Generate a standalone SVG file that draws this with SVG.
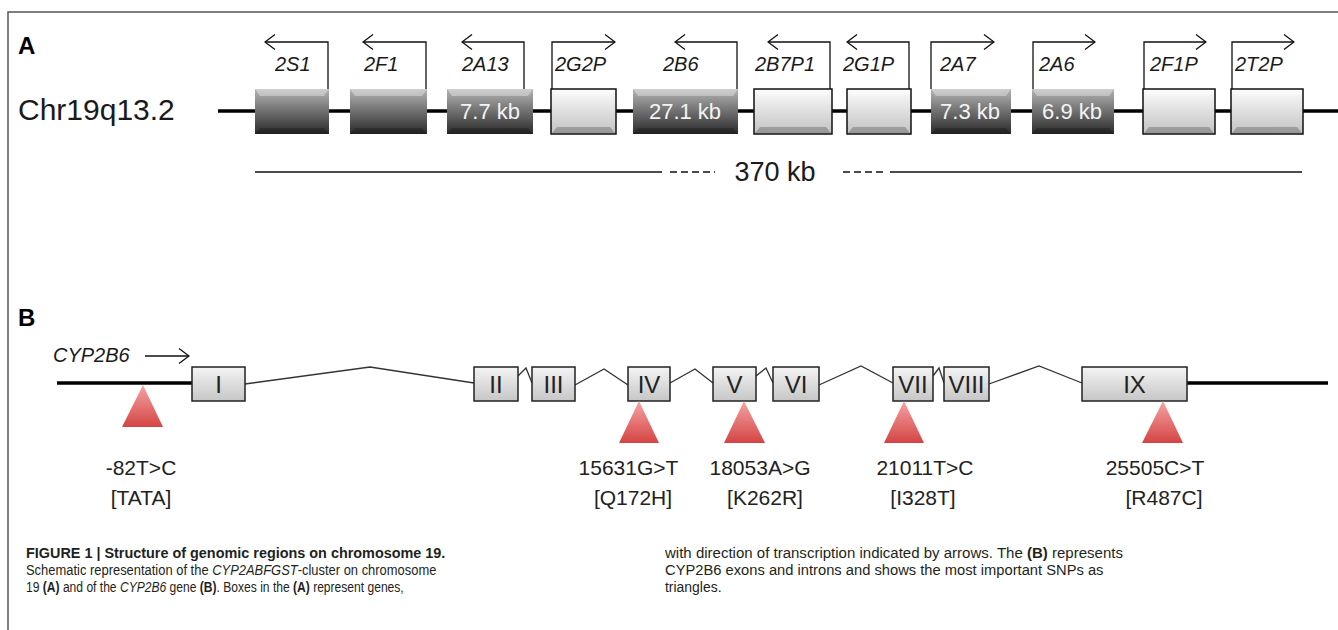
<svg xmlns="http://www.w3.org/2000/svg" width="1338" height="630" viewBox="0 0 1338 630">
<defs>
<linearGradient id="gDark" x1="0" y1="0" x2="0" y2="1"><stop offset="0" stop-color="#b4b4b4"/><stop offset="1" stop-color="#2a2a2a"/></linearGradient>
<linearGradient id="gLight" x1="0" y1="0" x2="0" y2="1"><stop offset="0" stop-color="#fbfbfb"/><stop offset="1" stop-color="#c2c2c2"/></linearGradient>
<linearGradient id="gExon" x1="0" y1="0" x2="0" y2="1"><stop offset="0" stop-color="#f4f4f4"/><stop offset="1" stop-color="#c6c6c6"/></linearGradient>
<linearGradient id="gRed" x1="0" y1="0" x2="0" y2="1"><stop offset="0" stop-color="#f6a4a4"/><stop offset="1" stop-color="#d44444"/></linearGradient>
<marker id="arr" viewBox="0 0 12 16" refX="11" refY="8" markerWidth="12" markerHeight="16" markerUnits="userSpaceOnUse" orient="auto">
<path d="M1,0.5 L11,8 L1,15.5" fill="none" stroke="#111" stroke-width="1.3"/>
</marker>
</defs>
<style>
.frame{fill:none;stroke:#555;stroke-width:1.5}
.chr{stroke:#000;stroke-width:3.5}
.dk{fill:url(#gDark)}
.lt{fill:url(#gLight);stroke:#111;stroke-width:1.5}
.ex{fill:url(#gExon);stroke:#222;stroke-width:1.5}
.bt{fill:#fff;opacity:0.35}
.bb{fill:#000;opacity:0.22}
.tx{fill:none;stroke:#111;stroke-width:1.3;marker-end:url(#arr)}
.intr{fill:none;stroke:#333;stroke-width:1.3}
.tri{fill:url(#gRed)}
.gl{font-family:"Liberation Sans",Arial,sans-serif;font-style:italic;font-size:20px;fill:#1a1a1a}
.kb{font-family:"Liberation Sans",Arial,sans-serif;font-size:22px;fill:#f4f4f4;text-anchor:middle}
.rn{font-family:"Liberation Sans",Arial,sans-serif;font-size:24px;fill:#222;text-anchor:middle}
.snp{font-family:"Liberation Sans",Arial,sans-serif;font-size:21px;fill:#222;text-anchor:middle}
.pl{font-family:"Liberation Sans",Arial,sans-serif;font-weight:bold;font-size:24px;fill:#000}
.cap{font-family:"Liberation Sans",Arial,sans-serif;font-size:15.5px;fill:#231f20}
.b{font-weight:bold}
.i{font-style:italic}
</style>
<rect width="1338" height="630" fill="#fff"/>
<path class="frame" d="M8,630 V12 H1338"/>

<g id="panelA">
<text class="pl" x="18" y="54">A</text>
<text id="chrLabel" x="18" y="120" style="font-family:'Liberation Sans',Arial,sans-serif;font-size:30px;fill:#1a1a1a">Chr19q13.2</text>
<line class="chr" x1="218" y1="111" x2="1338" y2="111"/>
</g>

<g id="genes">
<g id="g2S1"><rect class="dk" x="255" y="89" width="74" height="45"/><path class="bt" d="M255,89H329L324,96H260Z"/><path class="bb" d="M255,134H329L324,128H260Z"/><text class="gl" x="275" y="71">2S1</text></g>
<g id="g2F1"><rect class="dk" x="350" y="89" width="77" height="45"/><path class="bt" d="M350,89H427L422,96H355Z"/><path class="bb" d="M350,134H427L422,128H355Z"/><text class="gl" x="364" y="71">2F1</text></g>
<g id="g2A13"><rect class="dk" x="447" y="89" width="86" height="45"/><path class="bt" d="M447,89H533L528,96H452Z"/><path class="bb" d="M447,134H533L528,128H452Z"/><text class="kb" x="490" y="119">7.7 kb</text><text class="gl" x="462" y="71">2A13</text></g>
<g id="g2G2P"><rect class="lt" x="551" y="89" width="65" height="45"/><path class="bt" d="M552,90H615L610,96H557Z"/><path class="bb" d="M552,133H615L610,127H557Z"/><text class="gl" x="555" y="71">2G2P</text></g>
<g id="g2B6"><rect class="dk" x="633" y="89" width="105" height="45"/><path class="bt" d="M633,89H738L733,96H638Z"/><path class="bb" d="M633,134H738L733,128H638Z"/><text class="kb" x="685" y="119">27.1 kb</text><text class="gl" x="663" y="71">2B6</text></g>
<g id="g2B7P1"><rect class="lt" x="754" y="89" width="78" height="45"/><path class="bt" d="M755,90H831L826,96H760Z"/><path class="bb" d="M755,133H831L826,127H760Z"/><text class="gl" x="755" y="71">2B7P1</text></g>
<g id="g2G1P"><rect class="lt" x="847" y="89" width="64" height="45"/><path class="bt" d="M848,90H910L905,96H853Z"/><path class="bb" d="M848,133H910L905,127H853Z"/><text class="gl" x="843" y="71">2G1P</text></g>
<g id="g2A7"><rect class="dk" x="931" y="89" width="80" height="45"/><path class="bt" d="M931,89H1011L1006,96H936Z"/><path class="bb" d="M931,134H1011L1006,128H936Z"/><text class="kb" x="970" y="119">7.3 kb</text><text class="gl" x="940" y="71">2A7</text></g>
<g id="g2A6"><rect class="dk" x="1032" y="89" width="82" height="45"/><path class="bt" d="M1032,89H1114L1109,96H1037Z"/><path class="bb" d="M1032,134H1114L1109,128H1037Z"/><text class="kb" x="1072" y="119">6.9 kb</text><text class="gl" x="1039" y="71">2A6</text></g>
<g id="g2F1P"><rect class="lt" x="1143" y="89" width="72" height="45"/><path class="bt" d="M1144,90H1214L1209,96H1149Z"/><path class="bb" d="M1144,133H1214L1209,127H1149Z"/><text class="gl" x="1150" y="71">2F1P</text></g>
<g id="g2T2P"><rect class="lt" x="1231" y="89" width="72" height="45"/><path class="bt" d="M1232,90H1302L1297,96H1237Z"/><path class="bb" d="M1232,133H1302L1297,127H1237Z"/><text class="gl" x="1235" y="71">2T2P</text></g>
</g>

<g id="connectorsA">
<path class="tx" d="M328,89V42H265"/>
<path class="tx" d="M426,89V42H363"/>
<path class="tx" d="M524,89V42H462"/>
<path class="tx" d="M552,89V42H615"/>
<path class="tx" d="M737,89V42H675"/>
<path class="tx" d="M830,89V42H768"/>
<path class="tx" d="M909,89V42H847"/>
<path class="tx" d="M931,89V42H994"/>
<path class="tx" d="M1033,89V42H1095"/>
<path class="tx" d="M1144,89V42H1206"/>
<path class="tx" d="M1232,89V42H1294"/>
</g>

<g id="scale">
<line x1="255" y1="172" x2="662" y2="172" stroke="#111" stroke-width="1.5"/>
<line x1="670" y1="172" x2="715" y2="172" stroke="#111" stroke-width="1.5" stroke-dasharray="7,4"/>
<text x="775" y="181" style="font-family:'Liberation Sans',Arial,sans-serif;font-size:27px;fill:#1a1a1a;text-anchor:middle">370 kb</text>
<line x1="843" y1="172" x2="887" y2="172" stroke="#111" stroke-width="1.5" stroke-dasharray="7,4"/>
<line x1="890" y1="172" x2="1302" y2="172" stroke="#111" stroke-width="1.5"/>
</g>

<g id="panelB">
<text class="pl" x="18" y="326">B</text>
<text x="53" y="362" style="font-family:'Liberation Sans',Arial,sans-serif;font-style:italic;font-size:20px;fill:#1a1a1a">CYP2B6</text>
<path class="tx" d="M145,356H189"/>
<line class="chr" x1="57" y1="383" x2="193" y2="383" stroke-width="4"/>
<line class="chr" x1="1187" y1="383" x2="1328" y2="383" stroke-width="4"/>
</g>

<g id="introns">
<path class="intr" d="M245,384L370,367L474,383"/>
<path class="intr" d="M518,376L526,368L532,383"/>
<path class="intr" d="M575,385L604,369L628,385"/>
<path class="intr" d="M670,383L695,369L713,383"/>
<path class="intr" d="M756,376L766,368L773,383"/>
<path class="intr" d="M819,385L861,366L893,383"/>
<path class="intr" d="M933,376L939,368L944,383"/>
<path class="intr" d="M989,384L1039,366L1082,383"/>
</g>

<g id="exons">
<g id="exI"><rect class="ex" x="192" y="367" width="53" height="34"/><text class="rn" x="218.5" y="393">I</text></g>
<g id="exII"><rect class="ex" x="474" y="367" width="44" height="34"/><text class="rn" x="496" y="393">II</text></g>
<g id="exIII"><rect class="ex" x="532" y="367" width="43" height="34"/><text class="rn" x="553.5" y="393">III</text></g>
<g id="exIV"><rect class="ex" x="628" y="367" width="42" height="34"/><text class="rn" x="649" y="393">IV</text></g>
<g id="exV"><rect class="ex" x="713" y="367" width="43" height="34"/><text class="rn" x="734.5" y="393">V</text></g>
<g id="exVI"><rect class="ex" x="773" y="367" width="46" height="34"/><text class="rn" x="796" y="393">VI</text></g>
<g id="exVII"><rect class="ex" x="893" y="367" width="40" height="34"/><text class="rn" x="913" y="393">VII</text></g>
<g id="exVIII"><rect class="ex" x="944" y="367" width="45" height="34"/><text class="rn" x="966.5" y="393">VIII</text></g>
<g id="exIX"><rect class="ex" x="1082" y="367" width="105" height="34"/><text class="rn" x="1134.5" y="393">IX</text></g>
</g>

<g id="snps">
<g id="snpTATA"><path class="tri" d="M143,385L163,427H122Z"/><text class="snp" x="141" y="475">-82T&gt;C</text><text class="snp" x="141" y="505">[TATA]</text></g>
<g id="snpQ172H"><path class="tri" d="M639,401L659,443H619Z"/><text class="snp" x="628.5" y="475">15631G&gt;T</text><text class="snp" x="633" y="505">[Q172H]</text></g>
<g id="snpK262R"><path class="tri" d="M744,401L765,443H724Z"/><text class="snp" x="760" y="475">18053A&gt;G</text><text class="snp" x="765" y="505">[K262R]</text></g>
<g id="snpI328T"><path class="tri" d="M904,401L924,443H884Z"/><text class="snp" x="925" y="475">21011T&gt;C</text><text class="snp" x="923" y="505">[I328T]</text></g>
<g id="snpR487C"><path class="tri" d="M1163,401L1183,443H1142Z"/><text class="snp" x="1155" y="475">25505C&gt;T</text><text class="snp" x="1164" y="505">[R487C]</text></g>
</g>

<g id="caption">
<text class="cap b" transform="translate(26,558) scale(0.93,1)" fill="#000">FIGURE 1 | Structure of genomic regions on chromosome 19.</text>
<text class="cap" transform="translate(26,575) scale(0.835,1)">Schematic representation of the <tspan class="i">CYP2ABFGST</tspan>-cluster on chromosome</text>
<text class="cap" transform="translate(26,592) scale(0.78,1)">19 <tspan class="b">(A)</tspan> and of the <tspan class="i">CYP2B6</tspan> gene <tspan class="b">(B)</tspan>. Boxes in the <tspan class="b">(A)</tspan> represent genes,</text>
<text class="cap" transform="translate(665,558) scale(0.97,1)">with direction of transcription indicated by arrows. The <tspan class="b">(B)</tspan> represents</text>
<text class="cap" transform="translate(665,575) scale(0.95,1)">CYP2B6 exons and introns and shows the most important SNPs as</text>
<text class="cap" transform="translate(665,592) scale(0.9,1)">triangles.</text>
</g>
</svg>
